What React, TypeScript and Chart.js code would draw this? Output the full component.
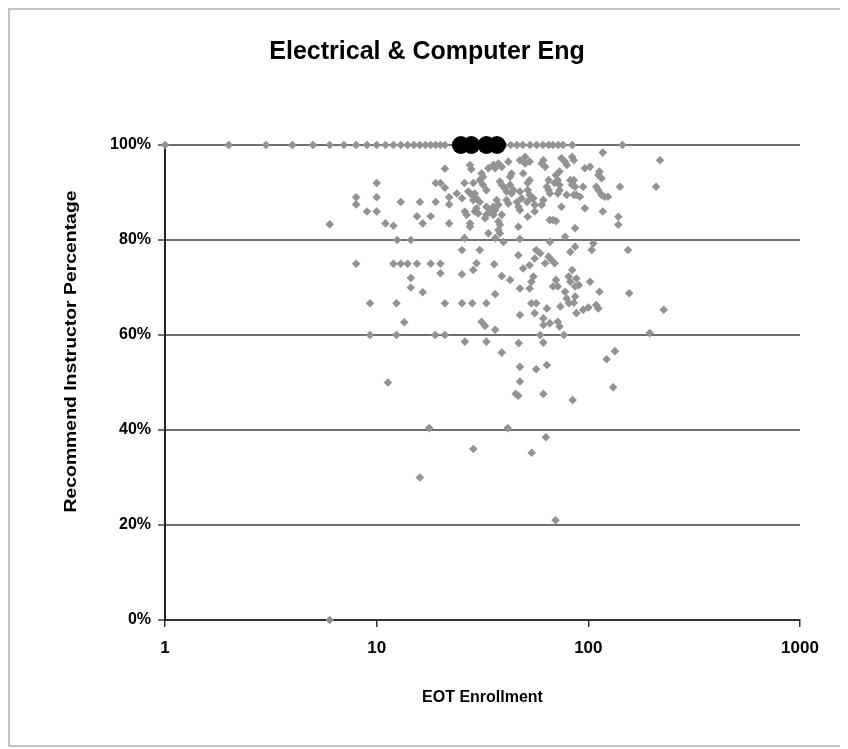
import React, { useEffect, useRef } from "react";
import { Chart, registerables } from "chart.js";

Chart.register(...registerables);

const chartTitle = "Electrical & Computer Eng";
const xAxisTitle = "EOT Enrollment";
const yAxisTitle = "Recommend Instructor Percentage";
const xTickValues = [1, 10, 100, 1000];
const yTickValues = [0, 20, 40, 60, 80, 100];

// Gray diamonds: all courses (enrollment, % recommending instructor)
const courseEnrollment = [
  1, 2, 3, 4, 5, 6, 7, 8, 9, 10, 11, 12, 13, 14, 15, 16, 17, 18, 19, 20, 21, 40, 43, 46, 49, 53, 57, 61, 65, 68, 72, 76, 84, 145,
  8, 8, 9, 6, 8, 10, 10, 10, 13, 11, 12, 16, 19, 15.5, 18, 16.5, 22, 22, 22, 21, 19, 20, 21,
  12, 13, 14, 15.5, 18, 20, 20, 14.5, 14.5, 16.5, 12.5, 14.5,
  27.6, 35.9, 46.7,
  27.6, 28, 26, 28.6, 31.3, 31.8, 30.7, 33.7, 35.6, 37.6, 39, 36.3, 41.9, 43.4, 42.7, 47.5, 50.3, 52.8, 50.3, 49.2, 52.8, 51.7,
  23.9, 25.3, 27.1, 28.1, 29.1, 28.6, 29.6, 30.7, 33, 31.8, 38.2, 39, 40.3, 41.1, 42.7, 44.3, 43.4, 47.5, 48.4, 51.7, 52.8, 53.8,
  36.9, 37.6, 35.6, 41.1, 41.9, 46, 46.8, 47.5, 51.3, 55, 55.8,
  26.1, 26.6, 29.6, 29.1, 30.2, 33, 34.4, 33, 32.5, 36.3, 35.6, 39, 51.7, 55.8, 27.6, 33.7, 37.6, 38.2, 37.6, 38.2, 36.3, 39.7,
  26, 47.5, 25.3, 30.7, 29.6, 28.6, 25.3, 39, 42.7, 47.5, 52.8, 53.8, 46.7, 49.2, 52.8, 56.7, 55.8, 36.3, 55,
  117, 61.3, 60.2, 62.5, 74.6, 77.6, 79.1, 83.9, 85.4, 73.1, 70.3, 71.7, 69.3, 64.9, 63.7, 64.9, 82.2, 85.4, 83.9, 86.6,
  96.3, 101.9, 112.9, 111.5, 115.5, 94.5, 109, 111.5, 73.1, 73.1, 71.7, 65.8, 85.4, 87.8, 91.2, 79, 115.5, 119.3, 123.8, 141,
  61.3, 60.2, 74.6, 96.3, 117, 65.8, 68.1, 70.3, 86.6, 138.6, 138.6, 77.6, 65.8, 82.2, 86.6, 103.7, 105.5, 154,
  59.2, 64.9, 67, 69.3, 62.5, 83.9, 80.7, 82.2, 70.3, 71.7, 68.1, 87.8, 90.2, 86.6, 101.9, 112.9, 77.6, 79, 156,
  218, 209, 227, 195, 133.5, 122, 131, 84.3,
  87.8, 94.5, 100, 109, 111.5, 86.6, 85.4,
  21, 25.3, 28.3, 33, 53.8, 56.7, 63.7, 73.8, 81,
  47.5, 55.8, 61.3, 65.8, 61.3, 71.7, 73.1, 31.3, 32.5, 36.3, 21, 59.2, 76.6, 26.1, 33, 46.9, 61.3, 39,
  47.5, 56.7, 63.7, 47.5, 45.4, 46.7, 61.3, 41.6,
  9.3, 12.4, 13.5, 9.3, 12.4, 18.9, 11.3, 17.7, 28.6, 54, 63,
  16, 70, 6,
];

const courseRecommend = [
  100, 100, 100, 100, 100, 100, 100, 100, 100, 100, 100, 100, 100, 100, 100, 100, 100, 100, 100, 100, 100, 100, 100, 100, 100, 100, 100, 100, 100, 100, 100, 100, 100, 100,
  89, 87.5, 86, 83.3, 75, 92, 89, 86, 88, 83.5, 83, 88, 88, 85, 85, 83.5, 83.5, 89, 87.5, 95, 92, 92, 91,
  75, 75, 75, 75, 75, 75, 73, 72, 70, 69, 80, 80,
  83.5, 74.9, 82.8,
  95.8, 94.9, 92, 92, 94, 93.3, 92.6, 95.1, 95.8, 96.1, 95.4, 95.1, 96.5, 94, 93.3, 96.8, 97.5, 96.5, 96.1, 94, 92.6, 92,
  89.8, 88.8, 90.2, 89.5, 89.8, 88.4, 88.8, 88, 90.5, 91.6, 92.3, 91.6, 90.9, 90.2, 91.6, 90.5, 89.8, 90.2, 88.8, 90.5, 89.5, 88.8,
  88.4, 87.4, 87, 88.4, 87.7, 88, 87, 86.3, 88, 88.8, 87.4,
  86, 85.3, 86.7, 86, 85.6, 87, 86.3, 85.3, 84.6, 86.3, 85.3, 85.3, 84.9, 86, 82.8, 81.4, 83.9, 83.2, 82.1, 81.4, 80.4, 79.6,
  80.4, 80.2, 77.9, 77.9, 75.1, 73.7, 72.8, 72.4, 71.6, 69.8, 69.8, 71.2, 76.8, 74, 74.7, 77.9, 76.1, 68.6, 72.3,
  98.4, 96.8, 96.1, 95.4, 97.2, 96.5, 95.8, 97.5, 96.8, 94.4, 93.7, 92.6, 92, 92.6, 91.2, 90.5, 92.6, 92.6, 91.6, 91.2,
  95.1, 95.4, 94.4, 93.7, 93, 91.2, 91.2, 90.5, 91.6, 90.5, 89.8, 89.8, 89.5, 89.5, 89.1, 89.5, 89.5, 89.1, 89.1, 91.2,
  88.4, 87.4, 87, 86.7, 86, 84.2, 84.2, 84, 82.5, 84.9, 83.2, 80.7, 79.6, 77.5, 78.6, 77.9, 79.3, 77.9,
  77.2, 76.5, 75.8, 75.1, 75.1, 73.7, 72.3, 71.2, 71.6, 70.2, 70.2, 71.9, 70.5, 70.2, 71.2, 69.1, 69.1, 67.7, 68.8,
  96.8, 91.2, 65.3, 60.4, 56.6, 54.9, 49, 46.3,
  64.6, 65.3, 65.8, 66.3, 65.6, 68.1, 66.8,
  66.7, 66.7, 66.7, 66.7, 66.7, 66.7, 65.6, 66, 66.7,
  64.2, 64.6, 63.5, 62.5, 62.1, 62.8, 61.8, 62.8, 61.9, 61.1, 60, 60, 60, 58.6, 58.6, 58.3, 58.4, 56.3,
  53.3, 52.8, 53.7, 50.2, 47.6, 47.2, 47.6, 40.4,
  66.7, 66.7, 62.7, 60, 60, 60, 50, 40.4, 36, 35.2, 38.5,
  30, 21, 0,
];

// Black circles: highlighted courses
const highlightEnrollment = [25, 28, 33, 37];
const highlightRecommend = [100, 100, 100, 100];

const FONT = '"Liberation Sans", Arial, Helvetica, sans-serif';

export default function App() {
  const canvasRef = useRef<HTMLCanvasElement | null>(null);

  useEffect(() => {
    document.body.style.overflow = "hidden";
    document.body.style.background = "#ffffff";
    const canvas = canvasRef.current;
    if (!canvas) return;

    const yTitlePlugin = {
      id: "yTitleCustom",
      afterDraw(chart: any) {
        const ctx = chart.ctx;
        ctx.save();
        ctx.translate(61, 341.5);
        ctx.rotate(-Math.PI / 2);
        ctx.scale(1.14, 1);
        ctx.font = `bold 17px ${FONT}`;
        ctx.fillStyle = "#000";
        ctx.textAlign = "center";
        ctx.textBaseline = "middle";
        ctx.fillText(yAxisTitle, 0, 0);
        ctx.restore();
      },
    };

    const chart = new Chart(canvas, {
      type: "scatter",
      data: {
        datasets: [
          {
            label: "Highlighted",
            data: highlightEnrollment.map((x, i) => ({ x, y: highlightRecommend[i] })),
            pointStyle: "circle",
            pointRadius: 9,
            pointHoverRadius: 9,
            backgroundColor: "#000000",
            borderColor: "#000000",
            borderWidth: 0,
            clip: false,
            order: 0,
          },
          {
            label: "Courses",
            data: courseEnrollment.map((x, i) => ({ x, y: courseRecommend[i] })),
            pointStyle: "rectRot",
            pointRadius: 4.3,
            pointHoverRadius: 4.3,
            backgroundColor: "#939393",
            borderColor: "#939393",
            borderWidth: 0,
            clip: false,
            order: 1,
          },
        ],
      },
      options: {
        animation: false,
        responsive: false,
        devicePixelRatio: 1,
        layout: { padding: { left: 0, right: 0, top: 0, bottom: 0 } },
        plugins: {
          legend: { display: false },
          tooltip: { enabled: false },
          title: {
            display: true,
            text: chartTitle,
            color: "#000",
            font: { family: FONT, size: 25, weight: "bold", lineHeight: 1.2 },
            padding: { top: 27, bottom: 78 },
          },
        },
        scales: {
          x: {
            type: "logarithmic",
            min: 1,
            max: 1000,
            afterBuildTicks: (scale: any) => {
              scale.ticks = xTickValues.map((v) => ({ value: v }));
            },
            afterFit: (scale: any) => {
              scale.height = 125;
            },
            ticks: {
              autoSkip: false,
              maxRotation: 0,
              padding: 11,
              color: "#000",
              font: { family: FONT, size: 17, weight: "bold" },
              callback: (v: any) => String(v),
            },
            grid: {
              display: true,
              drawOnChartArea: false,
              drawTicks: true,
              tickLength: 7,
              color: "#333",
              lineWidth: 1.5,
            },
            border: { display: true, color: "#333", width: 2 },
            title: {
              display: true,
              text: xAxisTitle,
              color: "#000",
              font: { family: FONT, size: 16, weight: "bold", lineHeight: 1.2 },
              padding: { top: 0, bottom: 38 },
            },
          },
          y: {
            min: 0,
            max: 100,
            afterBuildTicks: (scale: any) => {
              scale.ticks = yTickValues.map((v) => ({ value: v }));
            },
            afterFit: (scale: any) => {
              scale.width = 155;
            },
            ticks: {
              padding: 7,
              color: "#000",
              font: { family: FONT, size: 16, weight: "bold" },
              callback: (v: any) => `${v}%`,
            },
            grid: {
              display: true,
              drawTicks: true,
              tickLength: 7,
              color: "#707070",
              lineWidth: 2,
            },
            border: { display: true, color: "#222", width: 2 },
          },
          rightSpace: {
            type: "linear",
            position: "right",
            display: true,
            afterFit: (scale: any) => {
              scale.width = 44;
            },
            ticks: { display: false },
            grid: { display: false, drawTicks: false },
            border: { display: false },
          },
        },
      },
      plugins: [yTitlePlugin],
    });

    return () => {
      chart.destroy();
    };
  }, []);

  return (
    <div
      style={{
        position: "relative",
        width: 838,
        height: 739,
        border: "2px solid #c4c4c4",
        boxSizing: "border-box",
        background: "#fff",
      }}
    >
      <canvas
        ref={canvasRef}
        width={834}
        height={735}
        style={{ display: "block", width: 834, height: 735 }}
      />
    </div>
  );
}
